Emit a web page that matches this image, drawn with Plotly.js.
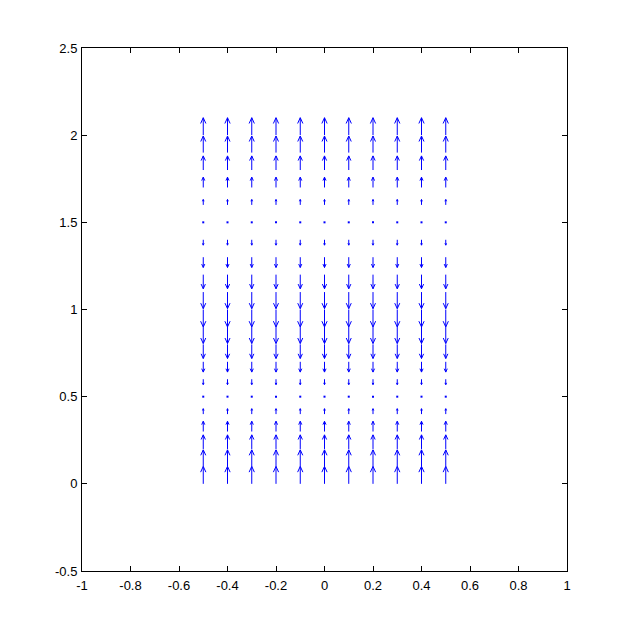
<!DOCTYPE html>
<html>
<head>
<meta charset="utf-8">
<script src="https://cdn.plot.ly/plotly-3.0.1.min.js"></script>
<style>html,body{margin:0;padding:0;background:#fff;}#chart{width:628px;height:643px;}</style>
</head>
<body>
<div id="chart"></div>
<script>
// Grid of arrow tails
var xGrid = [-0.5, -0.4, -0.3, -0.2, -0.1, 0, 0.1, 0.2, 0.3, 0.4, 0.5];
var yGrid = [0, 0.1, 0.2, 0.3, 0.4, 0.5, 0.6, 0.7, 0.8, 0.9, 1.0,
             1.1, 1.2, 1.3, 1.4, 1.5, 1.6, 1.7, 1.8, 1.9, 2.0];
// Vector components per row (u is zero everywhere, v read per row)
var uRow = [0, 0, 0, 0, 0, 0, 0, 0, 0, 0, 0, 0, 0, 0, 0, 0, 0, 0, 0, 0, 0];
var vRow = [1, 0.95, 0.81, 0.59, 0.31, 0, -0.31, -0.59, -0.81, -0.95, -1,
            -0.95, -0.81, -0.59, -0.31, 0, 0.31, 0.59, 0.81, 0.95, 1];
var xTicks = [-1, -0.8, -0.6, -0.4, -0.2, 0, 0.2, 0.4, 0.6, 0.8, 1];
var xTickText = ["-1", "-0.8", "-0.6", "-0.4", "-0.2", "0", "0.2", "0.4", "0.6", "0.8", "1"];
var yTicks = [-0.5, 0, 0.5, 1, 1.5, 2, 2.5];
var yTickText = ["-0.5", "0", "0.5", "1", "1.5", "2", "2.5"];

var scale = 0.1, alpha = 0.33, beta = 0.33;
var sx = [], sy = [], hx = [], hy = [], dx = [], dy = [];
xGrid.forEach(function (x) {
  yGrid.forEach(function (y, j) {
    var u = uRow[j] * scale, v = vRow[j] * scale;
    if (u === 0 && v === 0) { dx.push(x); dy.push(y); return; }
    sx.push(x, x + u, null); sy.push(y, y + v, null);
    hx.push(x + u - alpha * (u + beta * v), x + u, x + u - alpha * (u - beta * v), null);
    hy.push(y + v - alpha * (v - beta * u), y + v, y + v - alpha * (v + beta * u), null);
  });
});

var blue = 'rgb(0,0,255)';
var traces = [
  {type: 'scatter', mode: 'lines', x: sx, y: sy, line: {color: blue, width: 1}, hoverinfo: 'skip', connectgaps: false},
  {type: 'scatter', mode: 'lines', x: hx, y: hy, line: {color: blue, width: 1}, hoverinfo: 'skip', connectgaps: false},
  {type: 'scatter', mode: 'markers', x: dx, y: dy, marker: {color: blue, size: 2, symbol: 'square'}, hoverinfo: 'skip'}
];

var axisCommon = {
  showgrid: false, zeroline: false, showline: true, linecolor: 'black', linewidth: 1,
  mirror: 'ticks', ticks: 'inside', ticklen: 5, tickcolor: 'black', tickwidth: 1,
  tickfont: {family: 'Liberation Sans, Arial, sans-serif', size: 13, color: 'black'},
  tickmode: 'array', fixedrange: true
};
var layout = {
  width: 628, height: 643,
  margin: {l: 82, r: 61, t: 48, b: 72, pad: 0},
  paper_bgcolor: 'white', plot_bgcolor: 'white',
  showlegend: false,
  xaxis: Object.assign({}, axisCommon, {range: [-1, 1], tickvals: xTicks, ticktext: xTickText, ticklabelstandoff: 2}),
  yaxis: Object.assign({}, axisCommon, {range: [-0.5, 2.5], tickvals: yTicks, ticktext: yTickText, ticklabelstandoff: 1})
};
Plotly.newPlot('chart', traces, layout, {staticPlot: true, displayModeBar: false});
</script>
</body>
</html>
